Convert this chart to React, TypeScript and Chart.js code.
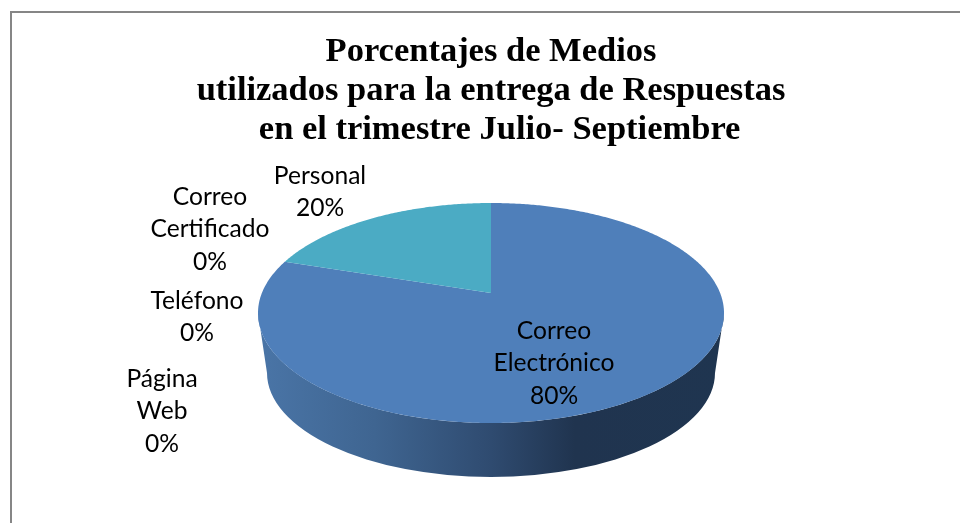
import React, { useEffect, useRef } from "react";
import { Chart, registerables } from "chart.js";

Chart.register(...registerables);

const titleLines = [
  "Porcentajes de Medios",
  "utilizados para la entrega de Respuestas",
  "  en el trimestre Julio- Septiembre",
];
const categories = ["Correo Electrónico", "Página Web", "Teléfono", "Correo Certificado", "Personal"];
const percentages = [80, 0, 0, 0, 20];
const sliceColors = ["#4f7fba", "#c0504d", "#9bbb59", "#8064a2", "#4babc4"];
const labelAnchors = [
  { x: 554, y: 331 },
  { x: 162, y: 379 },
  { x: 197, y: 301 },
  { x: 210, y: 197 },
  { x: 320, y: 176 },
];

const TOP = { cx: 491, cy: 313, rx: 233, ry: 110 };
const BOTTOM = { cx: 491, cy: 373, rx: 224, ry: 104 };
const APEX_SHIFT = 0.182; // perspective: how far the pie's centre sits behind the ellipse centre

function project(angle: number) {
  const x = Math.cos(angle);
  const y = Math.sin(angle);
  const d = 1 - APEX_SHIFT * y;
  const px = (x * Math.sqrt(1 - APEX_SHIFT * APEX_SHIFT)) / d;
  const py = (y - APEX_SHIFT) / d;
  return { x: TOP.cx + TOP.rx * px, y: TOP.cy + TOP.ry * py };
}

const pie3d = {
  id: "pie3d",
  beforeDatasetDraw(chart: any, args: any) {
    const ctx: CanvasRenderingContext2D = chart.ctx;
    const arcs = args.meta.data;
    ctx.save();

    // side wall
    const grad = ctx.createLinearGradient(TOP.cx - TOP.rx, 0, TOP.cx + TOP.rx, 0);
    grad.addColorStop(0, "#4a75a7");
    grad.addColorStop(0.25, "#3f6591");
    grad.addColorStop(0.5, "#2f4b70");
    grad.addColorStop(0.68, "#20344f");
    grad.addColorStop(1, "#1f3550");
    ctx.beginPath();
    ctx.ellipse(TOP.cx, TOP.cy, TOP.rx, TOP.ry, 0, Math.PI, 0, true);
    ctx.lineTo(BOTTOM.cx + BOTTOM.rx, BOTTOM.cy);
    ctx.ellipse(BOTTOM.cx, BOTTOM.cy, BOTTOM.rx, BOTTOM.ry, 0, 0, Math.PI, false);
    ctx.closePath();
    ctx.fillStyle = grad;
    ctx.fill();

    // top face, one wedge per library arc
    arcs.forEach((arc: any) => {
      const { startAngle, endAngle } = arc.getProps(["startAngle", "endAngle"], true);
      const span = endAngle - startAngle;
      if (span <= 0) return;
      const steps = Math.max(2, Math.ceil(span / 0.01));
      const apex = { x: TOP.cx, y: TOP.cy - APEX_SHIFT * TOP.ry };
      ctx.beginPath();
      ctx.moveTo(apex.x, apex.y);
      for (let i = 0; i <= steps; i++) {
        const p = project(startAngle + (span * i) / steps);
        ctx.lineTo(p.x, p.y);
      }
      ctx.closePath();
      ctx.fillStyle = arc.options.backgroundColor;
      ctx.fill();
    });
    ctx.restore();
    return false;
  },
  afterDraw(chart: any) {
    const ctx: CanvasRenderingContext2D = chart.ctx;
    ctx.save();
    // outer frame
    ctx.fillStyle = "#868686";
    ctx.fillRect(10, 11, 950, 2);
    ctx.fillRect(10, 11, 2, 512);
    // data labels
    ctx.fillStyle = "#000000";
    ctx.font = "24.6px Lato";
    ctx.textAlign = "center";
    ctx.textBaseline = "middle";
    categories.forEach((cat, i) => {
      const lines = [...cat.split(" "), `${percentages[i]}%`];
      lines.forEach((line, j) => {
        ctx.fillText(line, labelAnchors[i].x, labelAnchors[i].y + j * 32.5);
      });
    });
    ctx.restore();
  },
};

export default function App() {
  const ref = useRef<HTMLCanvasElement>(null);
  useEffect(() => {
    const chart = new Chart(ref.current!, {
      type: "pie",
      data: {
        labels: categories,
        datasets: [{ data: percentages, backgroundColor: sliceColors, borderWidth: 0 }],
      },
      options: {
        animation: false,
        responsive: false,
        layout: { padding: { left: 22 } },
        plugins: {
          legend: { display: false },
          tooltip: { enabled: false },
          title: {
            display: true,
            text: titleLines,
            color: "#000000",
            font: { family: "'Liberation Serif'", size: 34.5, weight: "bold", lineHeight: 1.12 },
            padding: { top: 33, bottom: 10 },
          },
        },
      },
      plugins: [pie3d],
    } as any);
    return () => chart.destroy();
  }, []);
  return (
    <div style={{ position: "absolute", left: 0, top: 0, width: 960, height: 523 }}>
      <canvas ref={ref} width={960} height={523} style={{ display: "block" }} />
    </div>
  );
}
